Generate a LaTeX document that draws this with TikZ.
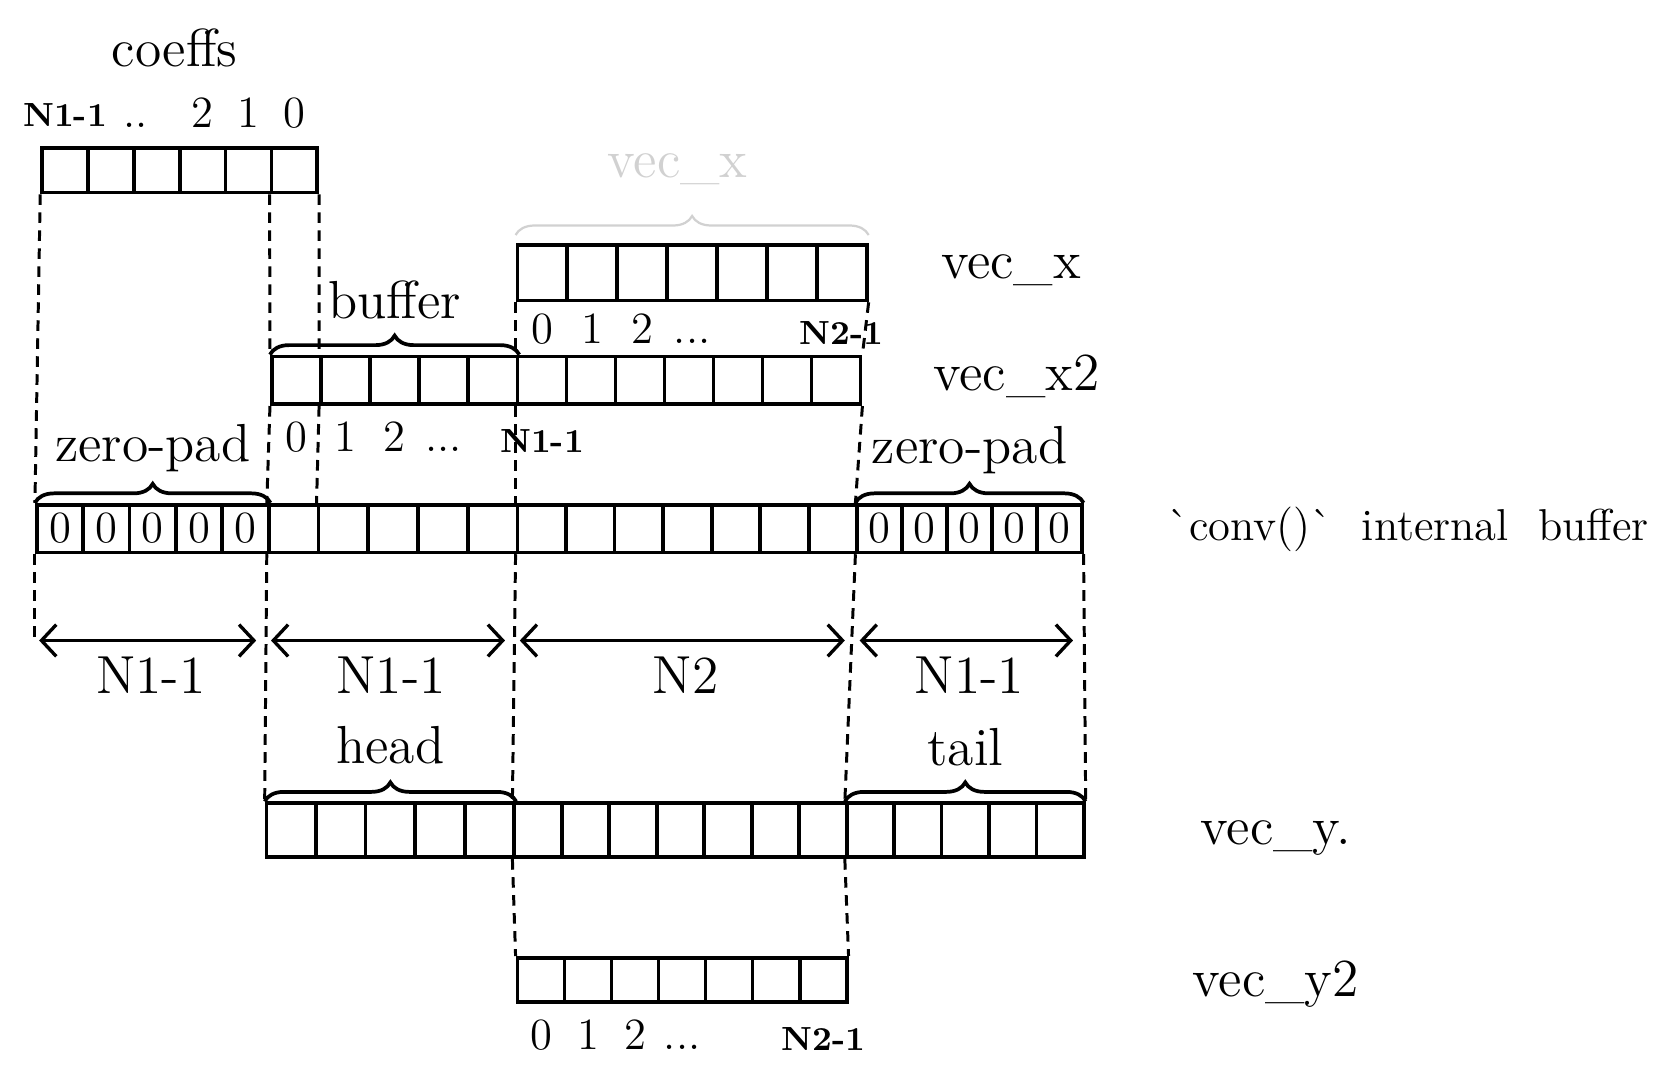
\documentclass[tikz,border=0pt]{standalone}
\usetikzlibrary{arrows.meta,decorations.pathreplacing}

\tikzset{
  cell/.style={draw, line width=1pt, inner sep=0pt, anchor=north west},
  guide/.style={line width=0.8pt, dash pattern=on 0.1cm off 0.07cm},
  dimarrow/.style={line width=0.9pt,
    {Straight Barb[length=0.14cm,width=0.3cm]}-{Straight Barb[length=0.14cm,width=0.3cm]},
    shorten <=0.04cm, shorten >=0.1cm},
  bracetop/.style={decorate, line width=1pt, decoration={brace, amplitude=0.18cm}},
  idx/.style={font=\large, text height=1.6ex, text depth=0.2ex},
  smallidx/.style={font=\small\bfseries},
  tag/.style={font=\Large},
}

\begin{document}
\begin{tikzpicture}
        \useasboundingbox (0,0) rectangle (15.68,-10.13);

        % the arrays, one node per cell
        \begin{scope}[every node/.style={cell}]
          \foreach \i in {1,...,6}
            \node[minimum width=0.4333cm, minimum height=0.42cm] (coeffs-\i) at ({0.38+(\i-1)*0.4333},-1.38) {};
          \foreach \i in {1,...,7}
            \node[minimum width=0.4714cm, minimum height=0.52cm] (vecx-\i) at ({4.87+(\i-1)*0.4714},-2.30) {};
          \foreach \i in {1,...,5}
            \node[minimum width=0.464cm, minimum height=0.45cm] (xbuf-\i) at ({2.55+(\i-1)*0.464},-3.35) {};
          \foreach \i in {1,...,7}
            \node[minimum width=0.463cm, minimum height=0.45cm] (xdat-\i) at ({4.87+(\i-1)*0.463},-3.35) {};
          \foreach \i in {1,...,5}
            \node[minimum width=0.438cm, minimum height=0.45cm] (padL-\i) at ({0.33+(\i-1)*0.438},-4.75) {\large 0};
          \foreach \i in {1,...,5}
            \node[minimum width=0.47cm, minimum height=0.45cm] (convA-\i) at ({2.52+(\i-1)*0.47},-4.75) {};
          \foreach \i in {1,...,7}
            \node[minimum width=0.4586cm, minimum height=0.45cm] (convB-\i) at ({4.87+(\i-1)*0.4586},-4.75) {};
          \foreach \i in {1,...,5}
            \node[minimum width=0.424cm, minimum height=0.45cm] (padR-\i) at ({8.08+(\i-1)*0.424},-4.75) {\large 0};
          \foreach \i in {1,...,5}
            \node[minimum width=0.468cm, minimum height=0.51cm] (head-\i) at ({2.50+(\i-1)*0.468},-7.57) {};
          \foreach \i in {1,...,7}
            \node[minimum width=0.4486cm, minimum height=0.51cm] (ymid-\i) at ({4.84+(\i-1)*0.4486},-7.57) {};
          \foreach \i in {1,...,5}
            \node[minimum width=0.448cm, minimum height=0.51cm] (tail-\i) at ({7.98+(\i-1)*0.448},-7.57) {};
          \foreach \i in {1,...,7}
            \node[minimum width=0.4443cm, minimum height=0.42cm] (vecy2-\i) at ({4.87+(\i-1)*0.4443},-9.03) {};
        \end{scope}

        % names on the right
        \node[tag] (coeffs) at (1.65,-0.45) {coeffs};
        \node[tag] (vecx) at (9.55,-2.55) {vec\_x};
        \node[tag] (vecx2) at (9.60,-3.55) {vec\_x2};
        \node[font=\large] (conv) at (13.30,-5.00) {\textasciigrave conv()\textasciigrave\ \ internal\ \ buffer};
        \node[tag] (vecy) at (12.05,-7.92) {vec\_y.};
        \node[tag] (vecy2) at (12.05,-9.30) {vec\_y2};

        % erased sketch above vec_x
        \node[tag, text=black!18] (ghost) at (6.40,-1.60) {vec\_x};
        \draw[bracetop, black!18, line width=0.6pt, decoration={raise=0.08cm}] (vecx-1.north west) -- (vecx-7.north east);

        % indices
        \node[smallidx, above=0.06cm] (ci-a) at (coeffs-1.north) {N1-1};
        \node[idx, above=0.02cm] (ci-b) at (coeffs-2.north east) {..};
        \node[idx, above=0.02cm] (ci-c) at (coeffs-4.north) {2};
        \node[idx, above=0.02cm] (ci-d) at (coeffs-5.north) {1};
        \node[idx, above=0.02cm] (ci-e) at (coeffs-6.north) {0};

        \node[idx, below=0.02cm] (xi-a) at (vecx-1.south) {0};
        \node[idx, below=0.02cm] (xi-b) at (vecx-2.south) {1};
        \node[idx, below=0.02cm] (xi-c) at (vecx-3.south) {2};
        \node[idx, below=0.02cm] (xi-d) at (vecx-4.south) {...};
        \node[smallidx, below=0.06cm] (xi-e) at (vecx-7.south) {N2-1};

        \node[idx, below=0.06cm] (bi-a) at (xbuf-1.south) {0};
        \node[idx, below=0.06cm] (bi-b) at (xbuf-2.south) {1};
        \node[idx, below=0.06cm] (bi-c) at (xbuf-3.south) {2};
        \node[idx, below=0.06cm] (bi-d) at (xbuf-4.south) {...};
        \node[smallidx, below=0.1cm] (bi-e) at (xdat-1.south) {N1-1};

        \node[idx, below=0.06cm] (yi-a) at (vecy2-1.south) {0};
        \node[idx, below=0.06cm] (yi-b) at (vecy2-2.south) {1};
        \node[idx, below=0.06cm] (yi-c) at (vecy2-3.south) {2};
        \node[idx, below=0.06cm] (yi-d) at (vecy2-4.south) {...};
        \node[smallidx, below=0.1cm] (yi-e) at (vecy2-7.south) {N2-1};

        % braces
        \draw[bracetop] (xbuf-1.north west) -- (xbuf-5.north east)
          node[tag, midway, above=0.2cm] (buffer) {buffer};
        \draw[bracetop] (padL-1.north west) -- (padL-5.north east)
          node[tag, midway, above=0.16cm] (zpadL) {zero-pad};
        \draw[bracetop] (padR-1.north west) -- (padR-5.north east)
          node[tag, midway, above=0.14cm] (zpadR) {zero-pad};
        \draw[bracetop] (head-1.north west) -- (head-5.north east)
          node[tag, midway, above=0.22cm] (headtag) {head};
        \draw[bracetop] (tail-1.north west) -- (tail-5.north east)
          node[tag, midway, above=0.2cm] (tailtag) {tail};

        % dashed guides
        \draw[guide] (coeffs-1.south west) -- (padL-1.north west);
        \draw[guide] (coeffs-6.south west) -- (xbuf-1.north west);
        \draw[guide] (coeffs-6.south east) -- (xbuf-2.north west);
        \draw[guide] (xbuf-1.south west) -- (convA-1.north west);
        \draw[guide] (xbuf-2.south west) -- (convA-2.north west);
        \draw[guide] (convA-1.south west) -- (head-1.north west);
        \draw[guide] (vecx-1.south west) -- (xdat-1.north west);
        \draw[guide] (vecx-7.south east) -- (xdat-7.north east);
        \draw[guide] (xdat-1.south west) -- (convB-1.north west);
        \draw[guide] (xdat-7.south east) -- (padR-1.north west);
        \draw[guide] (convB-1.south west) -- (ymid-1.north west);
        \draw[guide] (padR-1.south west) -- (tail-1.north west);
        \draw[guide] (padR-5.south east) -- (tail-5.north east);
        \draw[guide] (ymid-1.south west) -- (vecy2-1.north west);
        \draw[guide] (tail-1.south west) -- (vecy2-7.north east);

        % lengths
        \coordinate (a0) at (padL-1.south west |- 0,-6.05);
        \coordinate (a1) at (convA-1.south west |- 0,-6.05);
        \coordinate (a2) at (convB-1.south west |- 0,-6.05);
        \coordinate (a3) at (padR-1.south west |- 0,-6.05);
        \coordinate (a4) at (padR-5.south east |- 0,-6.05);
        \draw[guide] (padL-1.south west) -- (a0);

        \draw[dimarrow] (a0) -- (a1) node[tag, midway, below=0.02cm] (len-a) {N1-1};
        \draw[dimarrow] (a1) -- (a2) node[tag, midway, below=0.02cm] (len-b) {N1-1};
        \draw[dimarrow] (a2) -- (a3) node[tag, midway, below=0.02cm] (len-c) {N2};
        \draw[dimarrow] (a3) -- (a4) node[tag, midway, below=0.02cm] (len-d) {N1-1};

      \end{tikzpicture}
\end{document}
